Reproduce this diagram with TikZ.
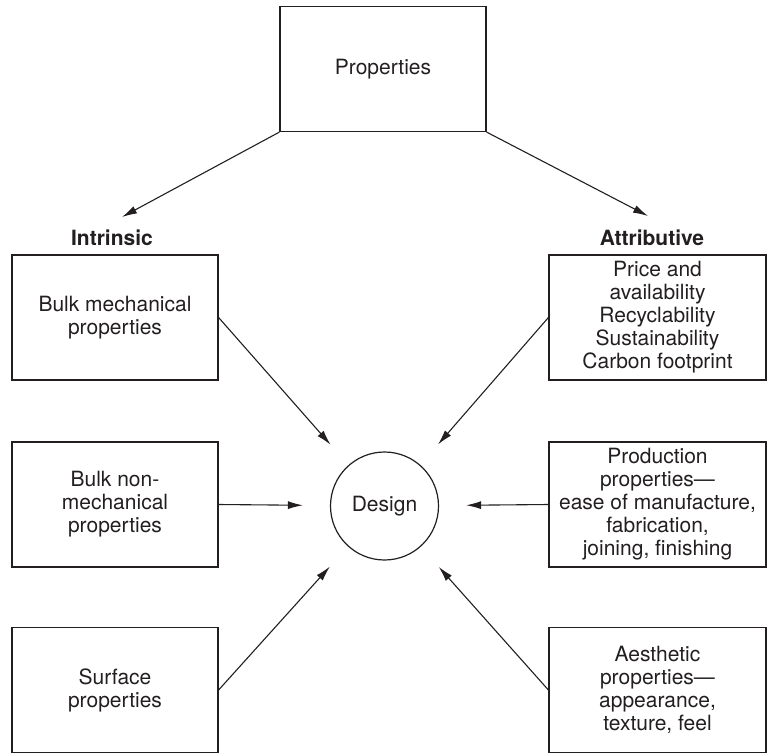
\documentclass[tikz,border=0pt]{standalone}
\usepackage{fontspec}
\setmainfont{TeX Gyre Heros}
\usetikzlibrary{arrows.meta,positioning,calc}
\definecolor{ink}{RGB}{35,31,32}
\newcommand{\chartsize}{\fontsize{21}{23}\selectfont}
\tikzset{box/.style={draw=ink,line width=1.2pt,minimum width=206pt,minimum height=125pt,inner sep=0pt,align=center,text=ink},
  widebox/.style={box,minimum width=217pt},
  flow/.style={-{Latex[length=15pt,width=8pt]},line width=1.1pt,ink},
  heading/.style={font=\chartsize\bfseries,text=ink}}
\begin{document}
\begin{tikzpicture}[x=1pt,y=-1pt,font=\chartsize]
\useasboundingbox (0,0) rectangle (767,754);
\node[box] (props) at (383,69) {Properties};
% the two headings and the points the top arrows run to
\node[heading] (intr) at (112,238) {Intrinsic};
\node[heading] (attr) at (652,238) {Attributive};
\coordinate (intr-in) at (122,217);
\coordinate (attr-in) at (648,216);
% intrinsic column
\node[box] (l1) at (115,317.5) {Bulk mechanical\\properties};
\node[box] (l2) at (115,504.5) {Bulk non-\\mechanical\\properties};
\node[box] (l3) at (115,690) {Surface\\properties};
% attributive column
\node[widebox] (r1) at (657.5,317.5) {Price and\\availability\\Recyclability\\Sustainability\\Carbon footprint};
\node[widebox] (r2) at (657.5,504.5) {Production\\properties---\\ease of manufacture,\\fabrication,\\joining, finishing};
\node[widebox] (r3) at (657.5,690) {Aesthetic\\properties---\\appearance,\\texture, feel};
\node[draw=ink,line width=1.2pt,circle,minimum size=108pt,inner sep=0pt,text=ink] (design) at (384.5,506) {Design};

\draw[flow] (props.south west) -- (intr-in);
\draw[flow] (props.south east) -- (attr-in);
\foreach \b/\side in {l1/east,l2/east,l3/east,r1/west,r2/west,r3/west}
  \draw[flow,shorten >=27pt] (\b.\side) -- (design);
\end{tikzpicture}
\end{document}
